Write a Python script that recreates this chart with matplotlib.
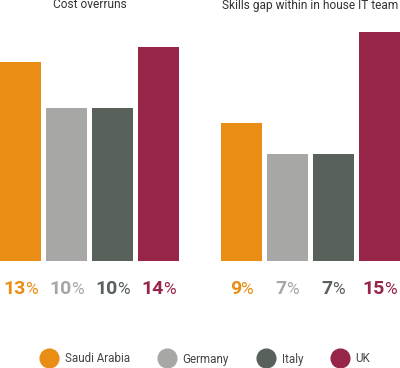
import matplotlib.pyplot as plt
from matplotlib.lines import Line2D
from matplotlib.offsetbox import TextArea, HPacker, AnnotationBbox

plt.rcParams['font.family'] = ['Roboto', 'DejaVu Sans']

# Data
countries = ['Saudi Arabia', 'Germany', 'Italy', 'UK']
colors = ['#EA8D14', '#A7A7A5', '#59615B', '#962547']
panel_titles = ['Cost overruns', 'Skills gap within in house IT team']
cost_overruns = [13, 10, 10, 14]
skills_gap = [9, 7, 7, 15]

fig = plt.figure(figsize=(4.0, 3.68), dpi=100)
W, H = 400, 368
bottom_px = 261
px_per_pct = 15.3
width = 41 / 46

panels = [(0, cost_overruns), (221, skills_gap)]
for (left_px, values), title in zip(panels, panel_titles):
    ax = fig.add_axes([left_px / W, (H - bottom_px) / H, 179 / W, bottom_px / H])
    x = list(range(len(values)))
    ax.bar(x, values, width=width, color=colors)
    ax.set_xlim(-width / 2, len(values) - 1 + width / 2)
    ax.set_ylim(0, bottom_px / px_per_pct)
    ax.axis('off')
    ax.text(0.5, 1 - 5 / bottom_px, title, transform=ax.transAxes,
            ha='center', va='center', fontsize=8.6, color='#333333')
    # value labels: bold number + smaller regular %, centred under each bar
    for xi, v, c in zip(x, values, colors):
        num = TextArea(f'{v}', textprops=dict(fontsize=14, fontweight='bold', color=c))
        pct = TextArea('%', textprops=dict(fontsize=12.5, color=c))
        box = HPacker(children=[num, pct], sep=-0.3, pad=0, align='baseline')
        ab = AnnotationBbox(box, (xi, 0), xybox=(0, -20), xycoords='data',
                            boxcoords='offset points', frameon=False,
                            box_alignment=(0.5, 0.5), annotation_clip=False)
        ax.add_artist(ab)

handles = [Line2D([], [], marker='o', linestyle='none', markersize=13.5,
                  markerfacecolor=c, markeredgecolor=c) for c in colors]
fig.legend(handles, countries, loc='center', bbox_to_anchor=(0.51, 1 - 359 / H),
           ncol=4, frameon=False, fontsize=8.4, columnspacing=2.15,
           handletextpad=0.35, labelcolor='#444444')

fig.savefig('out.png', dpi=100)
